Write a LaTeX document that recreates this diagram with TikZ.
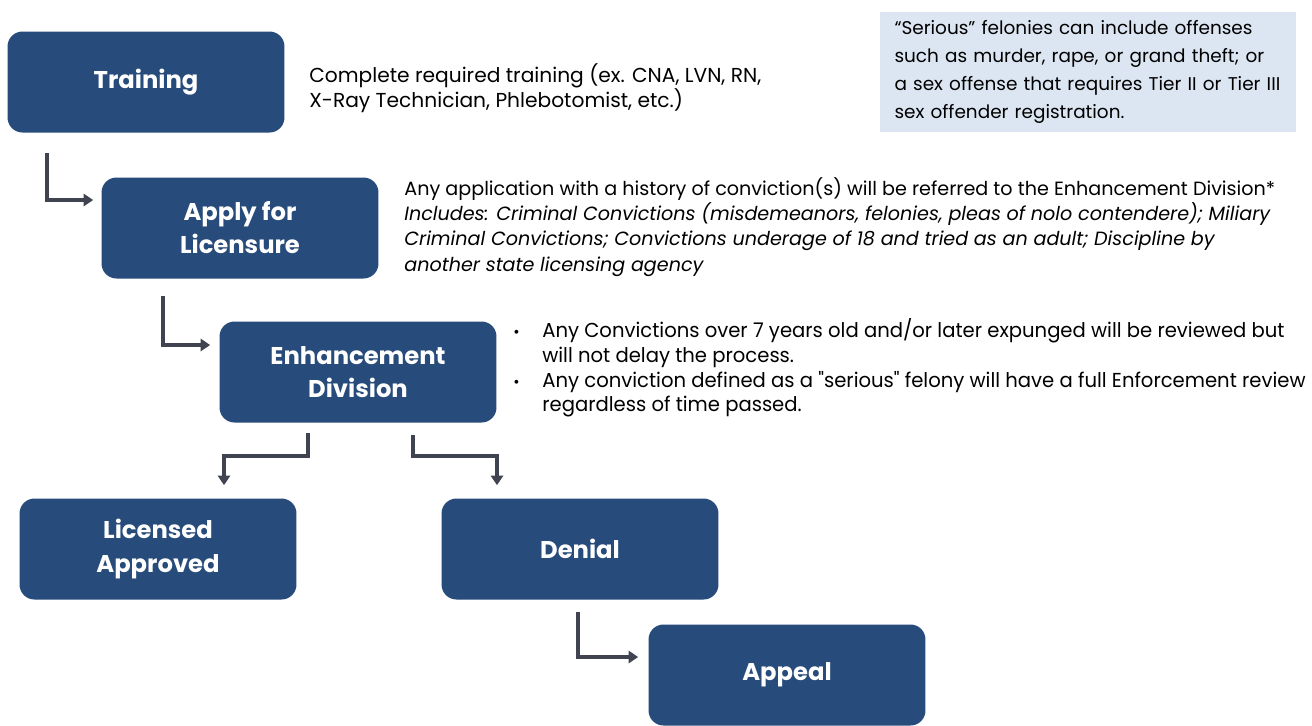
\documentclass[tikz,border=0pt]{standalone}
\usepackage{fontspec}
\setmainfont{Poppins}
\newfontfamily\narrowfont[FakeStretch=0.97]{Poppins}
\usetikzlibrary{arrows.meta,positioning,calc}
\definecolor{boxblue}{HTML}{274B7A}
\definecolor{notebg}{HTML}{DCE6F2}
\definecolor{flowgray}{HTML}{3F4450}

\begin{document}
\begin{tikzpicture}[x=0.02cm,y=-0.02cm,
  stage/.style={fill=boxblue,rounded corners=8.5pt,minimum width=5.54cm,minimum height=2.02cm,
    text=white,font=\fontsize{13.8}{18.8}\selectfont\bfseries,align=center},
  note/.style={anchor=west,align=left,inner sep=0pt,font=\fontsize{11.5}{14.3}\selectfont},
  flow/.style={-{Triangle[length=5.5pt,width=7pt]},line width=2pt,flowgray}]
\useasboundingbox (0,0) rectangle (1312,725);
\foreach \nm/\x/\y/\txt in {training/146/82/Training, apply/240/228/{Apply for\\Licensure},
    enhance/358/372/{Enhancement\\Division}, licensed/158/549/{Licensed\\Approved},
    denial/580/549/Denial, appeal/787/675/Appeal}{
  \node[stage] (\nm) at (\x,\y) {\txt};
}
% side notes
\node[note] (trainnote) at (309,88) {Complete required training (ex. CNA, LVN, RN,\\X-Ray Technician, Phlebotomist, etc.)};
\node[note,font=\fontsize{10.9}{14.3}\selectfont] (applynote) at (404,227) {Any application with a history of conviction(s) will be referred to the Enhancement Division*\\
  \itshape Includes: Criminal Convictions (misdemeanors, felonies, pleas of nolo contendere); Miliary\\
  \itshape Criminal Convictions; Convictions underage of 18 and tried as an adult; Discipline by\\
  \itshape another state licensing agency};
\node[note,font=\fontsize{11.5}{14}\selectfont\narrowfont] (enhnote) at (513,369) {%
  \begin{tabular}{@{}p{0.58cm}@{}l@{}}
  {\small\textbullet} & Any Convictions over 7 years old and/or later expunged will be reviewed but\\
   & will not delay the process.\\
  {\small\textbullet} & Any conviction defined as a "serious" felony will have a full Enforcement review\\
   & regardless of time passed.
  \end{tabular}};
\node[fill=notebg,minimum width=8.34cm,minimum height=2.42cm,inner xsep=0.3cm,text width=7.74cm,
  align=left,font=\fontsize{10.5}{16}\selectfont] (serious) at (1088,72)
  {“Serious” felonies can include offenses\\such as murder, rape, or grand theft; or\\a sex offense that requires Tier~II or Tier~III\\sex offender registration.};
% flow arrows
\draw[flow] ($(training.south west)+(40,20)$) |- ($(apply.west)+(-8,-28)$);
\draw[flow] ($(apply.south west)+(62,17)$) |- ($(enhance.west)+(-9,-27)$);
\draw[flow] ($(enhance.south)+(-50,10)$) -- ++(0,23) -| ($(licensed.north)+(66,-13)$);
\draw[flow] ($(enhance.south)+(55,12)$) -- ++(0,21) -| ($(denial.north)+(-83,-13)$);
\draw[flow] ($(denial.south)+(-2,12)$) |- ($(appeal.west)+(-10,-18)$);
\end{tikzpicture}
\end{document}
